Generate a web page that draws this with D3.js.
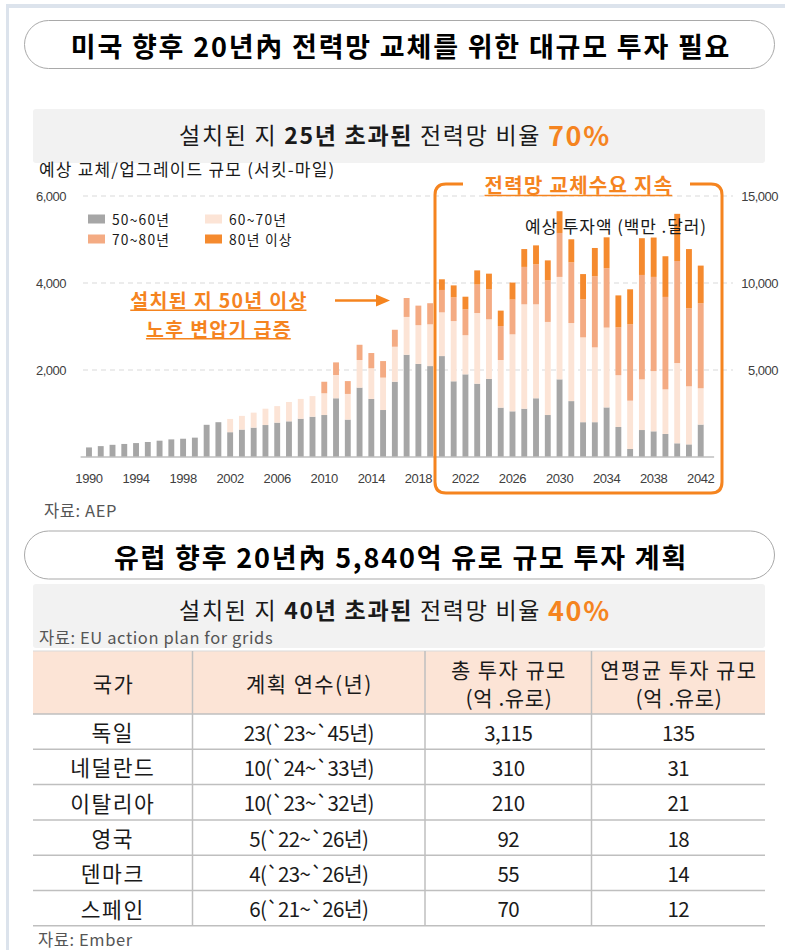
<!DOCTYPE html>
<html>
<head>
<meta charset="utf-8">
<title>전력망 투자</title>
<style>
  body { margin: 0; background: #fff; }
  svg { display: block; font-family: "Noto Sans CJK KR", "Noto Sans", sans-serif; }
  .tick text { fill: #404040; }
</style>
</head>
<body>
<svg width="785" height="950"></svg>
<script src="https://d3js.org/d3.v7.min.js"></script>
<script>
  // 연도 (1990 ~ 2042)
  var years = d3.range(1990, 2043);
  var keys = ["g50", "g60", "g70", "g80"];
  var legendLabels = ["50~60년", "60~70년", "70~80년", "80년 이상"];
  var colors = ["#a6a6a6", "#fce4d6", "#f4ab83", "#f58a2e"];

  // 서킷-마일, 그림에서 읽은 값
  var g50 = [220, 250, 280, 300, 320, 345, 375, 405, 420, 445,
    740, 800, 570, 630, 675, 735, 790, 820, 880, 925,
    965, 1350, 860, 1595, 1335, 1080, 1730, 2350, 2140, 2090,
    2320, 1740, 1900, 1685, 1795, 1135, 1050, 1110, 1350, 965,
    1785, 1285, 800, 800, 1140, 690, 185, 620, 590, 530,
    315, 290, 745];
  var g60 = [0, 0, 0, 0, 0, 0, 0, 0, 0, 0,
    0, 0, 305, 315, 345, 375, 380, 445, 455, 475,
    500, 535, 590, 635, 705, 745, 805, 870, 890, 960,
    1005, 1385, 900, 1625, 1370, 1095, 1770, 2400, 2160, 2140,
    2355, 1795, 1950, 1720, 1835, 1190, 1110, 1165, 1385, 1025,
    1845, 1335, 835];
  var g70 = [0, 0, 0, 0, 0, 0, 0, 0, 0, 0,
    0, 0, 0, 0, 0, 0, 0, 0, 0, 0,
    265, 290, 295, 350, 350, 380, 390, 435, 450, 485,
    515, 545, 595, 655, 695, 780, 800, 860, 920, 955,
    1010, 1395, 875, 1635, 1365, 1100, 1755, 2400, 2165, 2125,
    2345, 1795, 1955];
  var g80 = [0, 0, 0, 0, 0, 0, 0, 0, 0, 0,
    0, 0, 0, 0, 0, 0, 0, 0, 0, 0,
    0, 0, 0, 0, 0, 0, 0, 0, 0, 0,
    245, 275, 290, 325, 355, 355, 390, 410, 435, 460,
    500, 530, 580, 650, 710, 735, 805, 845, 905, 935,
    1085, 1360, 865];

  var leftTicks = [2000, 4000, 6000];
  var rightTicks = [5000, 10000, 15000];
  var xTicks = d3.range(1990, 2043, 4);

  // 유럽 표
  var countries = ["독일", "네덜란드", "이탈리아", "영국", "덴마크", "스페인"];
  var planYears = ["23(`23~`45년)", "10(`24~`33년)", "10(`23~`32년)", "5(`22~`26년)", "4(`23~`26년)", "6(`21~`26년)"];
  var totalInv = ["3,115", "310", "210", "92", "55", "70"];
  var annualInv = ["135", "31", "21", "18", "14", "12"];
  var tableHead = [["국가"], ["계획 연수(년)"], ["총 투자 규모", "(억 .유로)"], ["연평균 투자 규모", "(억 .유로)"]];

  var svg = d3.select("svg");
  var orange = "#f5841f";

  // 바깥 테두리
  svg.append("rect").attr("x", 6).attr("y", 4).attr("width", 779).attr("height", 4).attr("fill", "#dce3ec");
  svg.append("rect").attr("x", 6).attr("y", 4).attr("width", 3).attr("height", 946).attr("fill", "#dce3ec");

  function pill(y, title) {
    svg.append("rect")
      .attr("x", 24.5).attr("y", y).attr("width", 750).attr("height", 48)
      .attr("rx", 24).attr("fill", "#fff").attr("stroke", "#a9a9a9");
    svg.append("text")
      .attr("x", 401).attr("y", y + 25)
      .attr("text-anchor", "middle").attr("dominant-baseline", "central")
      .attr("font-size", 27).attr("font-weight", 700).attr("fill", "#000")
      .attr("letter-spacing", 1.8)
      .text(title);
  }

  function subtitle(y, h, a, pct) {
    svg.append("rect")
      .attr("x", 33).attr("y", y).attr("width", 732).attr("height", h)
      .attr("rx", 3).attr("fill", "#f2f2f2");
    var t = svg.append("text")
      .attr("x", 395).attr("y", y + 25)
      .attr("text-anchor", "middle").attr("dominant-baseline", "central")
      .attr("font-size", 23).attr("fill", "#1a1a1a")
      .attr("letter-spacing", 1.7);
    t.append("tspan").text("설치된 지 ");
    t.append("tspan").attr("font-weight", 700).text(a);
    t.append("tspan").text(" 전력망 비율 ");
    t.append("tspan").attr("font-weight", 700).attr("font-size", 27).attr("fill", orange).text(pct);
  }

  function underlined(x, y, size, txt) {
    var t = svg.append("text")
      .attr("x", x).attr("y", y)
      .attr("text-anchor", "middle").attr("dominant-baseline", "central")
      .attr("font-size", size).attr("font-weight", 700).attr("fill", orange)
      .attr("letter-spacing", 1.3)
      .text(txt);
    var bb = t.node().getBBox();
    svg.append("line")
      .attr("x1", bb.x).attr("x2", bb.x + bb.width - 1.3)
      .attr("y1", y + size * 0.55).attr("y2", y + size * 0.55)
      .attr("stroke", orange).attr("stroke-width", 1.5);
    return t;
  }

  function note(x, y, txt) {
    svg.append("text")
      .attr("x", x).attr("y", y).attr("dominant-baseline", "central")
      .attr("font-size", 16.5).attr("fill", "#555")
      .attr("letter-spacing", 0.6)
      .text(txt);
  }

  // ---------- 미국 ----------
  pill(20.5, "미국 향후 20년內 전력망 교체를 위한 대규모 투자 필요");
  subtitle(109, 54, "25년 초과된", "70%");

  svg.append("text")
    .attr("x", 39).attr("y", 168).attr("dominant-baseline", "central")
    .attr("font-size", 17).attr("fill", "#1a1a1a")
    .attr("letter-spacing", 1.2)
    .text("예상 교체/업그레이드 규모 (서킷-마일)");

  var data = years.map(function(yr, i) {
    return { year: yr, g50: g50[i], g60: g60[i], g70: g70[i], g80: g80[i] };
  });

  var x = d3.scaleBand().domain(years).range([83.1, 706.6])
    .paddingInner(0.5).paddingOuter(0.25);
  var y = d3.scaleLinear().domain([0, 6000]).range([457, 196]);
  var yR = d3.scaleLinear().domain([0, 15000]).range([457, 196]);

  svg.append("g").selectAll("line")
    .data(leftTicks).enter().append("line")
    .attr("x1", 83).attr("x2", 733)
    .attr("y1", function(d) { return y(d); })
    .attr("y2", function(d) { return y(d); })
    .attr("stroke", "#d9d9d9").attr("stroke-dasharray", "5,4");

  var yAxis = svg.append("g")
    .attr("transform", "translate(66,0)")
    .call(d3.axisLeft(y).tickValues(leftTicks).tickSize(0).tickPadding(0).tickFormat(d3.format(",")));
  yAxis.select(".domain").remove();
  yAxis.selectAll("text").attr("font-size", 13).attr("letter-spacing", -0.5);

  var yAxisR = svg.append("g")
    .attr("transform", "translate(778,0)")
    .call(d3.axisRight(yR).tickValues(rightTicks).tickSize(0).tickPadding(0).tickFormat(d3.format(",")));
  yAxisR.select(".domain").remove();
  yAxisR.selectAll("text").attr("text-anchor", "end").attr("font-size", 13).attr("letter-spacing", -0.5);

  var series = d3.stack().keys(keys)(data);

  svg.append("g").selectAll("g")
    .data(series).enter().append("g")
    .attr("fill", function(d, i) { return colors[i]; })
    .selectAll("rect")
    .data(function(d) { return d; })
    .enter().append("rect")
    .attr("x", function(d) { return x(d.data.year); })
    .attr("y", function(d) { return y(d[1]); })
    .attr("width", x.bandwidth())
    .attr("height", function(d) { return y(d[0]) - y(d[1]); });

  svg.append("line")
    .attr("x1", x.range()[0] - 2.5).attr("x2", x.range()[1] + 7.5)
    .attr("y1", y(0)).attr("y2", y(0))
    .attr("stroke", "#bfbfbf").attr("stroke-width", 1.5);

  var xAxis = svg.append("g")
    .attr("transform", "translate(0," + y(0) + ")")
    .call(d3.axisBottom(x).tickValues(xTicks).tickSize(0).tickPadding(17));
  xAxis.select(".domain").remove();
  xAxis.selectAll("text").attr("font-size", 13).attr("letter-spacing", -0.4);

  // 범례
  var legend = svg.append("g").selectAll("g")
    .data(legendLabels).enter().append("g")
    .attr("transform", function(d, i) {
      return "translate(" + (88 + (i % 2) * 117) + "," + (214.5 + Math.floor(i / 2) * 20) + ")";
    });
  legend.append("rect").attr("width", 17).attr("height", 9)
    .attr("fill", function(d, i) { return colors[i]; });
  legend.append("text").attr("x", 24).attr("y", 4.5)
    .attr("dominant-baseline", "central").attr("font-size", 13.8).attr("fill", "#1a1a1a")
    .attr("letter-spacing", 1.2)
    .text(function(d) { return d; });

  svg.append("text")
    .attr("x", 616).attr("y", 225)
    .attr("text-anchor", "middle").attr("dominant-baseline", "central")
    .attr("font-size", 17).attr("fill", "#1a1a1a")
    .attr("letter-spacing", 0.9)
    .text("예상 투자액 (백만 .달러)");

  // 주석
  underlined(219, 299.5, 19.5, "설치된 지 50년 이상");
  underlined(219, 328, 19.5, "노후 변압기 급증");
  svg.append("line")
    .attr("x1", 335).attr("x2", 378).attr("y1", 300.5).attr("y2", 300.5)
    .attr("stroke", orange).attr("stroke-width", 2.5);
  svg.append("path")
    .attr("d", "M376,294.5 L390,300.5 L376,306.5 Z")
    .attr("fill", orange);

  // 강조 박스
  var bx0 = 435, bx1 = 722, by0 = 184, by1 = 493, r = 11;
  svg.append("path")
    .attr("d", "M463," + by0 + " L" + (bx0 + r) + "," + by0 +
      " Q" + bx0 + "," + by0 + " " + bx0 + "," + (by0 + r) +
      " L" + bx0 + "," + (by1 - r) +
      " Q" + bx0 + "," + by1 + " " + (bx0 + r) + "," + by1 +
      " L" + (bx1 - r) + "," + by1 +
      " Q" + bx1 + "," + by1 + " " + bx1 + "," + (by1 - r) +
      " L" + bx1 + "," + (by0 + r) +
      " Q" + bx1 + "," + by0 + " " + (bx1 - r) + "," + by0 +
      " L690," + by0)
    .attr("fill", "none").attr("stroke", orange).attr("stroke-width", 3);
  underlined(579, 184.5, 20, "전력망 교체수요 지속");

  note(44, 510, "자료: AEP");

  // ---------- 유럽 ----------
  pill(531, "유럽 향후 20년內 5,840억 유로 규모 투자 계획");
  subtitle(584, 64, "40년 초과된", "40%");
  note(39, 637, "자료: EU action plan for grids");

  var colX = [33, 192.5, 425, 591.5, 765];
  var headTop = 651, headBot = 714, rowH = 35.3;
  var rows = countries.map(function(c, i) { return [c, planYears[i], totalInv[i], annualInv[i]]; });
  var tableBot = headBot + rowH * rows.length;

  svg.append("rect")
    .attr("x", colX[0]).attr("y", headTop).attr("width", colX[4] - colX[0]).attr("height", headBot - headTop)
    .attr("fill", "#fce4d6");

  svg.append("g").selectAll("line")
    .data(d3.range(rows.length + 1)).enter().append("line")
    .attr("x1", colX[0]).attr("x2", colX[4])
    .attr("y1", function(i) { return headBot + i * rowH; })
    .attr("y2", function(i) { return headBot + i * rowH; })
    .attr("stroke", "#bfbfbf").attr("stroke-width", 1.5);
  svg.append("line")
    .attr("x1", colX[0]).attr("x2", colX[4]).attr("y1", headTop).attr("y2", headTop)
    .attr("stroke", "#d9d9d9").attr("stroke-width", 1);
  svg.append("g").selectAll("line")
    .data(colX.slice(1, 4)).enter().append("line")
    .attr("x1", function(d) { return d; }).attr("x2", function(d) { return d; })
    .attr("y1", headTop).attr("y2", tableBot)
    .attr("stroke", "#bfbfbf").attr("stroke-width", 1.5);

  tableHead.forEach(function(lines, c) {
    var cx = (colX[c] + colX[c + 1]) / 2;
    lines.forEach(function(s, k) {
      svg.append("text")
        .attr("x", cx + 0.7)
        .attr("y", lines.length === 1 ? 683 : 669 + k * 28)
        .attr("text-anchor", "middle").attr("dominant-baseline", "central")
        .attr("font-size", 21).attr("fill", "#1a1a1a")
        .attr("letter-spacing", k === 0 ? 1.4 : 0.6)
        .text(s);
    });
  });

  rows.forEach(function(row, i) {
    row.forEach(function(s, c) {
      svg.append("text")
        .attr("x", (colX[c] + colX[c + 1]) / 2)
        .attr("y", headBot + rowH * (i + 0.5))
        .attr("text-anchor", "middle").attr("dominant-baseline", "central")
        .attr("font-size", c === 0 ? 21.5 : 20.5).attr("fill", "#1a1a1a")
        .attr("letter-spacing", c === 0 ? 1.5 : -0.6)
        .text(s);
    });
  });

  note(38, 939, "자료: Ember");
</script>
</body>
</html>
